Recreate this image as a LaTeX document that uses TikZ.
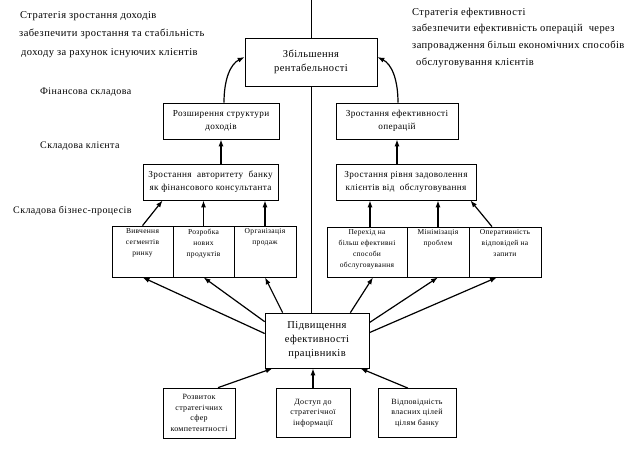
\documentclass[tikz,border=0pt]{standalone}
\usepackage{fontspec}
\setmainfont[LetterSpace=4]{Liberation Serif}
\usetikzlibrary{arrows.meta}

\tikzset{
  box/.style={draw, fill=white, line width=0.7pt, align=center, inner sep=1pt},
  bigbox/.style={box, font=\fontsize{10.5}{14}\selectfont},
  midbox/.style={box, font=\fontsize{9.2}{13}\selectfont},
  botbox/.style={box, font=\fontsize{8}{10.5}\selectfont},
  smallbox/.style={box},
  stext/.style={align=center, inner sep=0pt, anchor=north, yshift=-3pt, font=\fontsize{7.5}{11}\selectfont},
  lbl/.style={anchor=west, inner sep=0pt, font=\fontsize{10.5}{12}\selectfont},
  arr/.style={-{Latex[length=7pt,width=5pt]}, line width=1.2pt},
}

\begin{document}
\begin{tikzpicture}[x=1pt,y=-1pt]
  \useasboundingbox (0,0) rectangle (641,451);
  \coordinate (div top) at (311,0);
  \coordinate (div bot) at (311,313);
  \draw[line width=0.7pt] (div top) -- (div bot);

  \node[lbl] (s1) at (20,16) {Стратегія зростання доходів};
  \node[lbl] (s2) at (19,34) {забезпечити зростання та стабільність};
  \node[lbl] (s3) at (21,53) {доходу за рахунок існуючих клієнтів};
  \node[lbl] (e1) at (412,13) {Стратегія ефективності};
  \node[lbl] (e2) at (412,29) {забезпечити ефективність операцій\ \ через};
  \node[lbl] (e3) at (412,46) {запровадження більш економічних способів};
  \node[lbl] (e4) at (416,63) {обслуговування клієнтів};
  \node[lbl, font=\fontsize{10}{12}\selectfont] (fin lbl) at (40,92) {Фінансова складова};
  \node[lbl, font=\fontsize{10}{12}\selectfont] (kl lbl) at (40,146) {Складова клієнта};
  \node[lbl, font=\fontsize{10}{12}\selectfont] (bp lbl) at (13,211) {Складова бізнес-процесів};

  \node[bigbox, minimum width=132pt, minimum height=48pt] (top) at (311,62) {Збільшення\\рентабельності};
  \node[midbox, minimum width=116pt, minimum height=36pt] (fin) at (221,121) {Розширення структури\\доходів};
  \node[midbox, minimum width=122pt, minimum height=36pt] (oper) at (397,121) {Зростання ефективності\\операцій};
  \node[midbox, minimum width=135pt, minimum height=36pt] (klient) at (210.5,182) {Зростання\ \ авторитету\ \ банку\\як фінансового консультанта};
  \node[midbox, minimum width=140pt, minimum height=36pt] (zadov) at (406,182) {Зростання рівня задоволення\\клієнтів від\ \ обслуговування};

  \node[smallbox, minimum width=61pt, minimum height=51pt] (b1) at (142.5,251.5) {};
  \node[smallbox, minimum width=61pt, minimum height=51pt] (b2) at (203.5,251.5) {};
  \node[smallbox, minimum width=62pt, minimum height=51pt] (b3) at (265,251.5) {};
  \node[stext] (b1t) at (b1.north) {Вивчення\\сегментів\\ринку};
  \node[stext] (b2t) at (b2.north) {Розробка\\нових\\продуктів};
  \node[stext] (b3t) at (b3.north) {Організація\\продаж};

  \node[smallbox, minimum width=80pt, minimum height=50pt] (c1) at (367,252) {};
  \node[smallbox, minimum width=62pt, minimum height=50pt] (c2) at (438,252) {};
  \node[smallbox, minimum width=72pt, minimum height=50pt] (c3) at (505,252) {};
  \node[stext] (c1t) at (c1.north) {Перехід на\\більш ефективні\\способи\\обслуговування};
  \node[stext] (c2t) at (c2.north) {Мінімізація\\проблем};
  \node[stext] (c3t) at (c3.north) {Оперативність\\відповідей на\\запити};

  \node[bigbox, minimum width=104pt, minimum height=55pt] (cen) at (317,340.5) {Підвищення\\ефективності\\працівників};

  \node[botbox, minimum width=72pt, minimum height=50pt] (d1) at (199,413) {Розвиток\\стратегічних\\сфер\\компетентності};
  \node[botbox, minimum width=74pt, minimum height=49pt] (d2) at (313,413) {Доступ до\\стратегічної\\інформації};
  \node[botbox, minimum width=78pt, minimum height=49pt] (d3) at (417,413) {Відповідність\\власних цілей\\цілям банку};

  \draw[arr] ([xshift=3pt]fin.north) .. controls +(0,-24) and +(-14,7) .. ([yshift=5pt]top.west);
  \draw[arr] ([xshift=1pt]oper.north) .. controls +(0,-24) and +(14,7) .. ([yshift=5pt]top.east);
  \draw[arr] (fin.south |- klient.north) -- (fin.south);
  \draw[arr] (oper.south |- zadov.north) -- (oper.south);

  \draw[arr] (b1.north) -- ([xshift=20pt]klient.south west);
  \draw[arr] (b2.north) -- (b2.north |- klient.south);
  \draw[arr] (b3.north) -- (b3.north |- klient.south);
  \draw[arr] ([xshift=3pt]c1.north) -- ([xshift=3pt]c1.north |- zadov.south);
  \draw[arr] (c2.north) -- (c2.north |- zadov.south);
  \draw[arr] ([xshift=-13pt]c3.north) -- ([xshift=-6pt]zadov.south east);

  \draw[arr] ([yshift=7pt]cen.west) -- (b1.south);
  \draw[arr] ([yshift=-9pt]cen.north west) -- (b2.south);
  \draw[arr] ([xshift=18pt]cen.north west) -- (b3.south);
  \draw[arr] ([xshift=-19pt]cen.north east) -- ([xshift=6pt]c1.south);
  \draw[arr] ([yshift=-10pt]cen.north east) -- (c2.south);
  \draw[arr] ([yshift=-20pt]cen.north east) -- ([xshift=-8pt]c3.south);

  \draw[arr] ([xshift=19pt]d1.north) -- ([xshift=8pt]cen.south west);
  \draw[arr] (d2.north) -- (d2.north |- cen.south);
  \draw[arr] ([xshift=-9pt]d3.north) -- ([xshift=-9pt]cen.south east);
\end{tikzpicture}
\end{document}
